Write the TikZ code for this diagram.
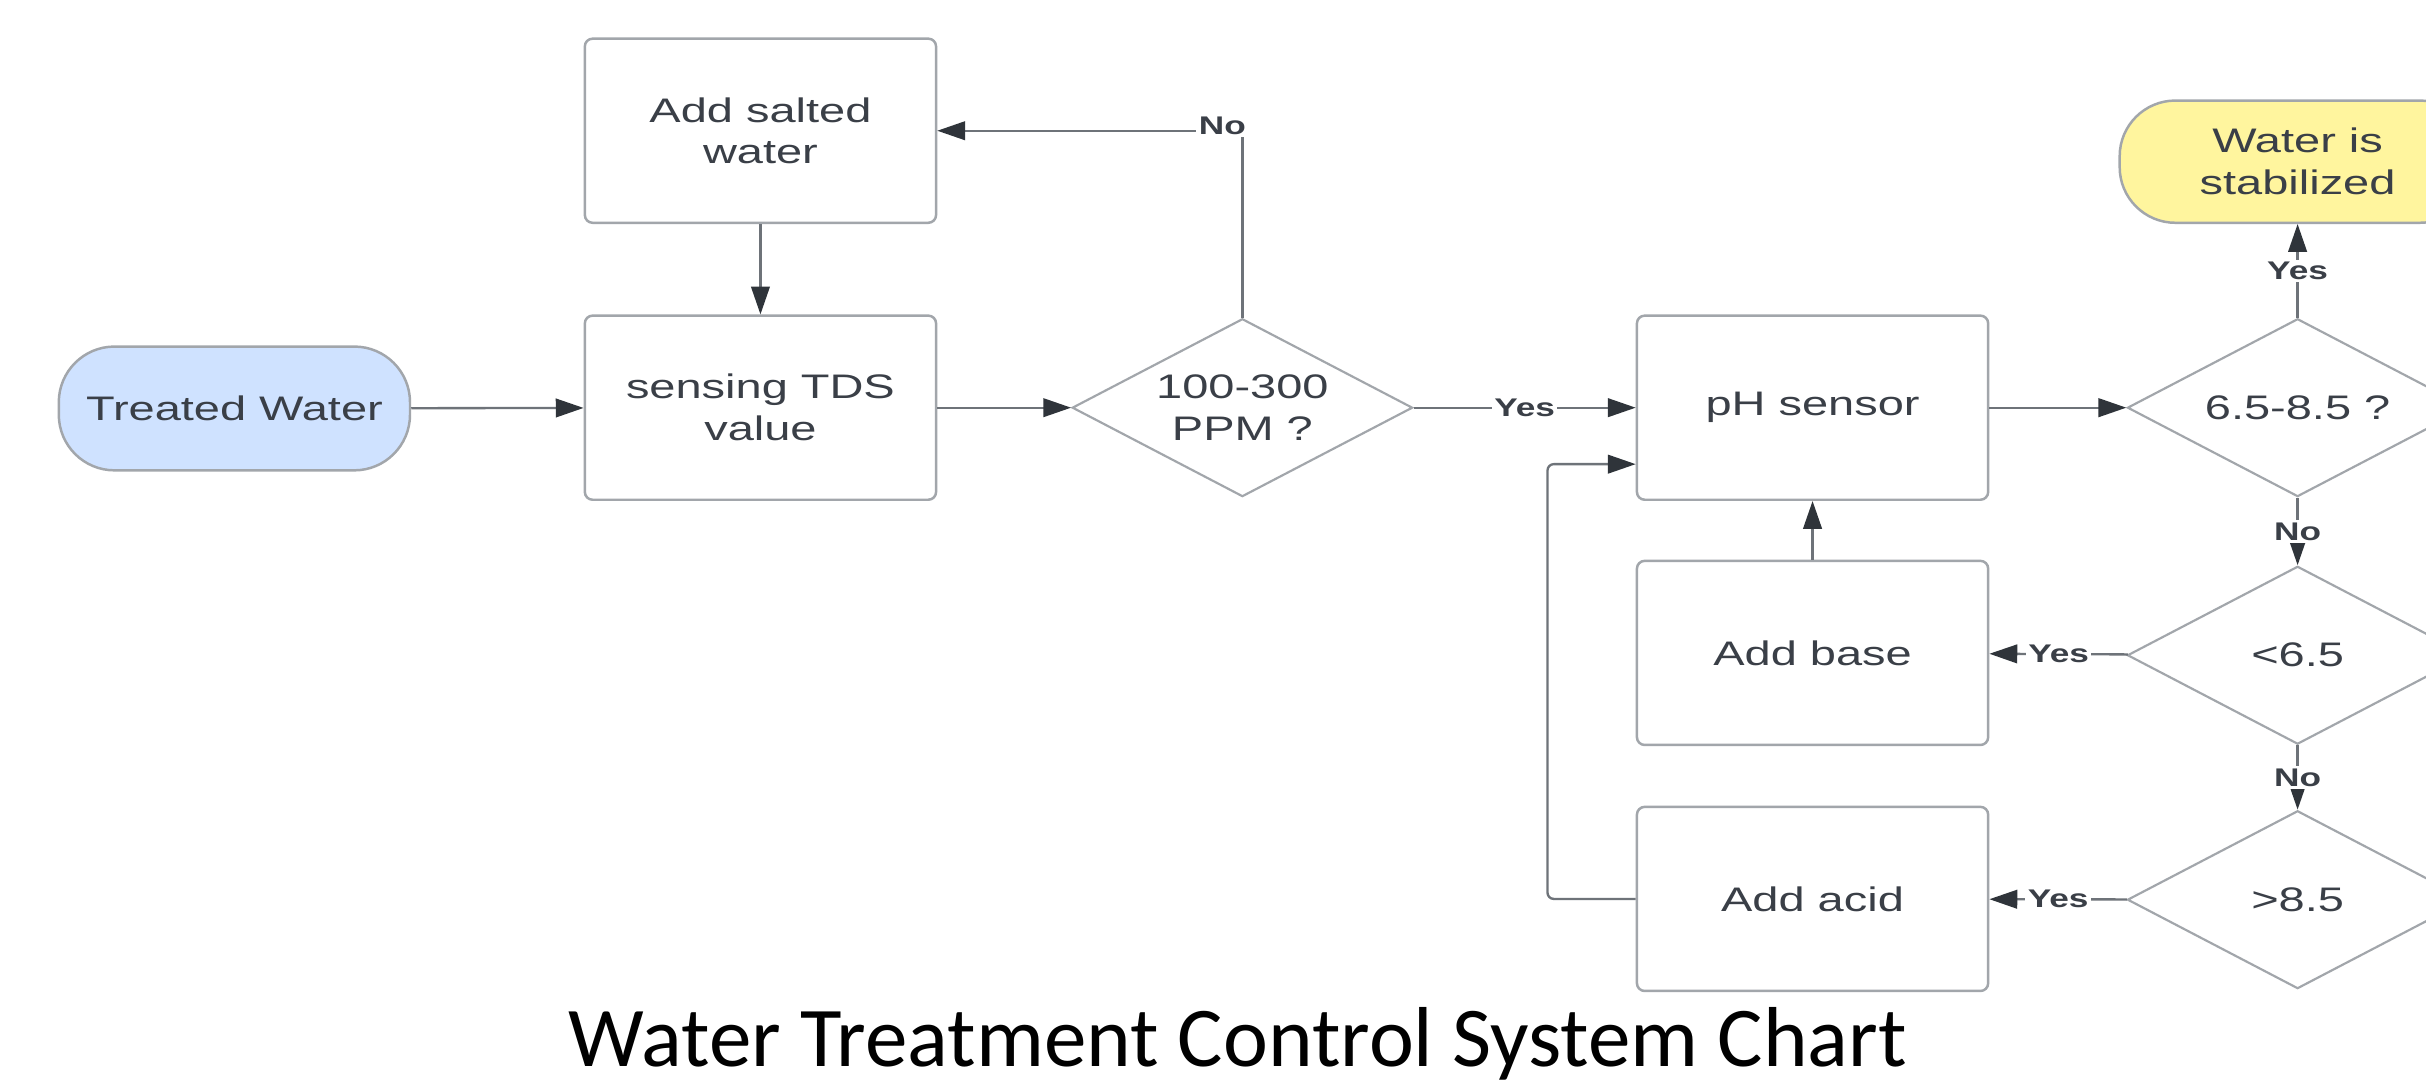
\documentclass[tikz,border=0pt]{standalone}
\usepackage{fontspec}
\setmainfont{Liberation Sans}
\newfontfamily\dfont[FakeStretch=1.38]{Liberation Sans}
\newfontfamily\tfont{Carlito}
\usetikzlibrary{shapes.geometric,arrows.meta}
\definecolor{txt}{HTML}{3A3F47}
\definecolor{bord}{HTML}{A2A6AB}
\definecolor{lin}{HTML}{6E7379}
\definecolor{tip}{HTML}{2F343A}
\definecolor{blu}{HTML}{CFE2FF}
\definecolor{yel}{HTML}{FFF59E}
\begin{document}
\begin{tikzpicture}[x=1pt,y=-1pt,
  every node/.style={text=txt, font=\dfont\fontsize{22}{27}\selectfont, align=center, inner sep=0pt},
  procbox/.style={draw=bord, line width=1.6pt, rounded corners=5pt, minimum width=227pt, minimum height=119pt, fill=white},
  termbox/.style={draw=bord, line width=1.6pt, rounded corners=36pt, minimum width=227pt, minimum height=80pt},
  decbox/.style={draw=bord, line width=1.4pt, diamond, aspect=1.913, minimum width=220pt, minimum height=115pt, fill=white},
  lab/.style={font=\dfont\bfseries\fontsize{16.5}{17}\selectfont, fill=white, inner sep=1.5pt, text=txt},
  flow/.style={draw=lin, line width=1.5pt, -{Triangle[length=18pt,width=12pt,color=tip]}},
]
\useasboundingbox (0,0) rectangle (1568,703);
\clip (0,0) rectangle (1568,703);
\fill[white] (0,0) rectangle (1568,703);

\node[termbox, fill=blu] (tw) at (151.5,264) {Treated Water};
\node[procbox] (salt) at (491.5,84.5) {Add salted\\water};
\node[procbox] (tds) at (491.5,263.5) {sensing TDS\\value};
\node[decbox] (d1) at (803,263.5) {100-300\\PPM ?};
\node[procbox] (ph) at (1171.5,263.5) {pH sensor};
\node[decbox] (d2) at (1485,263.5) {6.5-8.5 ?};
\node[termbox, fill=yel, minimum width=230pt, minimum height=79pt] (ws) at (1485,104.5) {Water is\\stabilized};
\node[decbox] (d3) at (1485,423.5) {<6.5};
\node[procbox] (base) at (1171.5,422) {Add base};
\node[decbox] (d4) at (1485,581.5) {>8.5};
\node[procbox] (acid) at (1171.5,581) {Add acid};

\draw[flow] (tw) -- (tds);
\draw[flow] (salt) -- (tds);
\draw[flow] (tds) -- (d1);
\draw[flow] (d1.north) |- node[lab, pos=0.5, xshift=-13pt, yshift=3pt] {No} (salt.east);
\draw[flow] (d1) -- node[lab] {Yes} (ph);
\draw[flow] (ph) -- (d2);
\draw[flow] (d2) -- node[lab] {Yes} (ws);
\draw[flow] (d2) -- node[lab] {No} (d3);
\draw[flow] (d3) -- node[lab] {Yes} (base);
\draw[flow] (d3) -- node[lab] {No} (d4);
\draw[flow] (d4) -- node[lab] {Yes} (acid);
\draw[flow] (base) -- (ph);
\draw[flow, rounded corners=4pt] (acid.west) -- ++(-57,0) |- ([yshift=-36.5pt]ph.west);

\node[font=\tfont\fontsize{55}{60}\selectfont, text=black, anchor=base] (title) at (800,689) {Water Treatment Control System Chart};
\end{tikzpicture}
\end{document}
